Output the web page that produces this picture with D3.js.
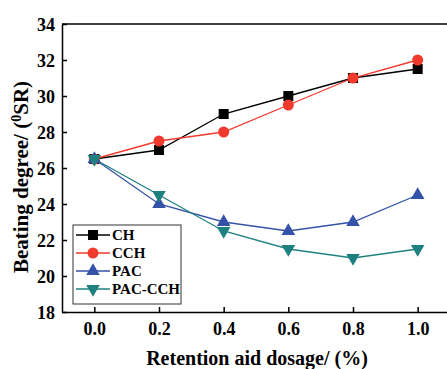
<!DOCTYPE html>
<html><head><meta charset="utf-8">
<script src="https://cdn.jsdelivr.net/npm/d3@7/dist/d3.min.js"></script>
<style>body{margin:0;background:#fff}svg{display:block}text{font-family:"Liberation Serif","Times New Roman",serif;font-weight:bold}</style>
</head><body>
<svg id="c" width="447" height="369"></svg>
<script>
const xValues = [0.0, 0.2, 0.4, 0.6, 0.8, 1.0];
const seriesNames = ["CH", "CCH", "PAC", "PAC-CCH"];
const CH = [26.5, 27, 29, 30, 31, 31.5];
const CCH = [26.5, 27.5, 28, 29.5, 31, 32];
const PAC = [26.5, 24, 23, 22.5, 23, 24.5];
const PAC_CCH = [26.5, 24.5, 22.5, 21.5, 21, 21.5];
const xTicks = [0.0, 0.2, 0.4, 0.6, 0.8, 1.0];
const yTicks = [18, 20, 22, 24, 26, 28, 30, 32, 34];

const series = [
  {name: "CH", values: CH, color: "#000000", sym: d3.symbolSquare, size: 100, rot: 0},
  {name: "CCH", values: CCH, color: "#f03a2e", sym: d3.symbolCircle, size: 95, rot: 0},
  {name: "PAC", values: PAC, color: "#3452a8", sym: d3.symbolTriangle, size: 80, rot: 0},
  {name: "PAC-CCH", values: PAC_CCH, color: "#1f8080", sym: d3.symbolTriangle, size: 80, rot: 180}
];

const svg = d3.select("#c");
const L = 62, T = 24, B = 312, R = 450;
const x = d3.scaleLinear().domain([-0.1, 1.1]).range([L, R]);
const y = d3.scaleLinear().domain([18, 34]).range([B, T]);

svg.append("line").attr("x1", L).attr("x2", R).attr("y1", T).attr("y2", T).attr("stroke", "#000").attr("stroke-width", 1.5);

const xAxis = svg.append("g").attr("transform", `translate(0,${B})`)
  .call(d3.axisBottom(x).tickValues(xTicks).tickSizeInner(-5).tickSizeOuter(0).tickPadding(10).tickFormat(d3.format(".1f")));
const yAxis = svg.append("g").attr("transform", `translate(${L},0)`)
  .call(d3.axisLeft(y).tickValues(yTicks).tickSizeInner(-5).tickSizeOuter(0).tickPadding(7).tickFormat(d3.format("d")));
[xAxis, yAxis].forEach(g => {
  g.select(".domain").attr("stroke", "#000").attr("stroke-width", 1.5);
  g.selectAll(".tick line").attr("stroke", "#000").attr("stroke-width", 1.5);
  g.selectAll("text").attr("fill", "#000").style("font-size", "18px").style("font-family", '"Liberation Serif",serif').style("font-weight", "bold");
});
yAxis.selectAll("text").attr("dy", "0.35em");

const line = d3.line().x((d, i) => x(xValues[i])).y(d => y(d));
series.forEach(s => {
  svg.append("path").datum(s.values).attr("d", line).attr("fill", "none").attr("stroke", s.color).attr("stroke-width", 1.3);
});
series.forEach(s => {
  const sym = d3.symbol().type(s.sym).size(s.size);
  svg.append("g").selectAll("path").data(s.values).join("path")
    .attr("d", sym)
    .attr("transform", (d, i) => `translate(${x(xValues[i])},${y(d)}) rotate(${s.rot})`)
    .attr("fill", s.color);
});

const lg = svg.append("g");
lg.append("rect").attr("x", 73).attr("y", 225).attr("width", 108).attr("height", 79).attr("fill", "#fff").attr("stroke", "#333").attr("stroke-width", 1);
series.forEach((s, i) => {
  const yy = 235 + i * 18;
  lg.append("line").attr("x1", 76).attr("x2", 110).attr("y1", yy).attr("y2", yy).attr("stroke", s.color).attr("stroke-width", 1.3);
  lg.append("path").attr("d", d3.symbol().type(s.sym).size(s.size)).attr("transform", `translate(93,${yy}) rotate(${s.rot})`).attr("fill", s.color);
  lg.append("text").attr("x", 112).attr("y", yy).attr("dy", "0.35em").style("font-size", "15px").text(s.name);
});

svg.append("text").attr("x", 257).attr("y", 365).attr("text-anchor", "middle").style("font-size", "20px").text("Retention aid dosage/ (%)");
const yt = svg.append("text").attr("transform", "translate(28,177) rotate(-90)").attr("text-anchor", "middle").style("font-size", "21px");
yt.append("tspan").text("Beating degree/ (");
yt.append("tspan").attr("dy", "-7").style("font-size", "14px").text("0");
yt.append("tspan").attr("dy", "7").text("SR)");
</script>
</body></html>
